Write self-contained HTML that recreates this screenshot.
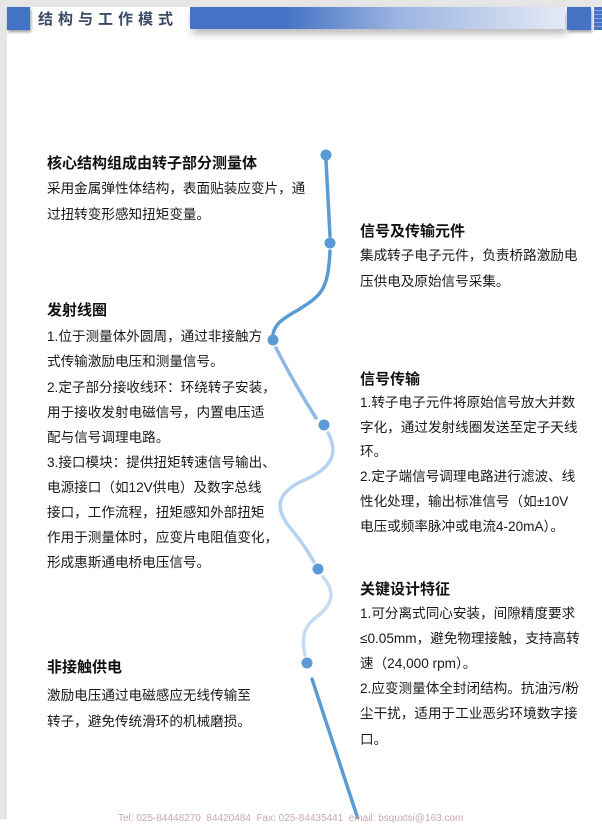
<!DOCTYPE html>
<html><head><meta charset="utf-8"><style>
body{margin:0;width:602px;height:819px;background:#fff;position:relative;overflow:hidden;font-family:"Liberation Sans","Noto Sans CJK SC",sans-serif;color:#1a1a1a}
.l{position:absolute;font-size:13.6px;white-space:nowrap;line-height:18px}
.h{position:absolute;font-size:15px;font-weight:bold;white-space:nowrap;color:#111;line-height:18px}
</style></head><body>
<div style="position:absolute;left:0;top:0;width:602px;height:7px;background:#e6e6e6"></div>
<div style="position:absolute;left:0;top:0;width:7px;height:819px;background:#e6e6e6"></div>
<div style="position:absolute;left:7px;top:7px;width:23px;height:23px;background:#4472c4;box-shadow:1px 2px 3px #999"></div>
<div style="position:absolute;left:38px;top:8px;font-size:15px;font-weight:bold;letter-spacing:5px;color:#3a4a66">结构与工作模式</div>
<div style="position:absolute;left:190px;top:7px;width:375px;height:22px;background:linear-gradient(90deg,#4472c4 0%,#4472c4 25%,#9ab3e0 55%,#e4eaf5 100%);box-shadow:2px 5px 8px #bbb"></div>
<div style="position:absolute;left:567px;top:7px;width:24px;height:23px;background:#4472c4;box-shadow:1px 2px 3px #999"></div>
<div style="position:absolute;left:594px;top:7px;width:8px;height:23px;background:repeating-linear-gradient(180deg,#4472c4 0 3px,#8aa3d6 3px 4px)"></div>
<svg style="position:absolute;left:0;top:0" width="602" height="819">
<g fill="none" stroke-width="3.5" stroke-linecap="round">
<path d="M326,160 Q328,200 330,236" stroke="#5b9bd5"/>
<path d="M330,251 C328,290 322,295 298,310 C280,320 275,325 273,334" stroke="#5b9bd5"/>
<path d="M276,348 Q295,385 316,418" stroke="#8db8e3"/>
<path d="M328,433 C340,455 330,470 300,482 C275,495 275,510 292,530 Q305,546 314,562" stroke="#b5d2ef"/>
<path d="M323,577 C336,592 333,605 315,618 C300,630 303,645 305,655" stroke="#c5dcf2"/>
<path d="M312,679 L358,819" stroke="#5b9bd5"/>
</g>
<g fill="#5b9bd5">
<circle cx="326" cy="155" r="5.5"/><circle cx="330" cy="243" r="5.5"/><circle cx="273" cy="340" r="5.5"/><circle cx="324" cy="425" r="5.5"/><circle cx="318" cy="569" r="5.5"/><circle cx="307" cy="663" r="5.5"/>
</g>
</svg>
<div class="h" style="left:47px;top:155px">核心结构组成由转子部分测量体</div>
<div class="l" style="left:47px;top:180px">采用金属弹性体结构，表面贴装应变片，通</div>
<div class="l" style="left:47px;top:206px">过扭转变形感知扭矩变量。</div>

<div class="h" style="left:360px;top:223px">信号及传输元件</div>
<div class="l" style="left:360px;top:247px">集成转子电子元件，负责桥路激励电</div>
<div class="l" style="left:360px;top:273px">压供电及原始信号采集。</div>

<div class="h" style="left:47px;top:302px">发射线圈</div>
<div class="l" style="left:47px;top:328px">1.位于测量体外圆周，通过非接触方</div>
<div class="l" style="left:47px;top:353px">式传输激励电压和测量信号。</div>
<div class="l" style="left:47px;top:379px">2.定子部分接收线环：环绕转子安装，</div>
<div class="l" style="left:47px;top:404px">用于接收发射电磁信号，内置电压适</div>
<div class="l" style="left:47px;top:429px">配与信号调理电路。</div>
<div class="l" style="left:47px;top:454px">3.接口模块：提供扭矩转速信号输出、</div>
<div class="l" style="left:47px;top:479px">电源接口（如12V供电）及数字总线</div>
<div class="l" style="left:47px;top:504px">接口，工作流程，扭矩感知外部扭矩</div>
<div class="l" style="left:47px;top:529px">作用于测量体时，应变片电阻值变化，</div>
<div class="l" style="left:47px;top:554px">形成惠斯通电桥电压信号。</div>

<div class="h" style="left:360px;top:371px">信号传输</div>
<div class="l" style="left:360px;top:394px">1.转子电子元件将原始信号放大并数</div>
<div class="l" style="left:360px;top:419px">字化，通过发射线圈发送至定子天线</div>
<div class="l" style="left:360px;top:443px">环。</div>
<div class="l" style="left:360px;top:468px">2.定子端信号调理电路进行滤波、线</div>
<div class="l" style="left:360px;top:493px">性化处理，输出标准信号（如±10V</div>
<div class="l" style="left:360px;top:518px">电压或频率脉冲或电流4-20mA）。</div>

<div class="h" style="left:360px;top:581px">关键设计特征</div>
<div class="l" style="left:360px;top:605px">1.可分离式同心安装，间隙精度要求</div>
<div class="l" style="left:360px;top:630px">≤0.05mm，避免物理接触，支持高转</div>
<div class="l" style="left:360px;top:655px">速（24,000 rpm）。</div>
<div class="l" style="left:360px;top:680px">2.应变测量体全封闭结构。抗油污/粉</div>
<div class="l" style="left:360px;top:705px">尘干扰，适用于工业恶劣环境数字接</div>
<div class="l" style="left:360px;top:731px">口。</div>

<div class="h" style="left:47px;top:659px">非接触供电</div>
<div class="l" style="left:47px;top:687px">激励电压通过电磁感应无线传输至</div>
<div class="l" style="left:47px;top:713px">转子，避免传统滑环的机械磨损。</div>

<div style="position:absolute;left:118px;top:813px;font-size:10px;color:#c9a8b0;white-space:nowrap">Tel: 025-84448270 &nbsp;84420484 &nbsp;Fax: 025-84435441 &nbsp;email: bsquxtsi@163.com</div>
</body></html>
